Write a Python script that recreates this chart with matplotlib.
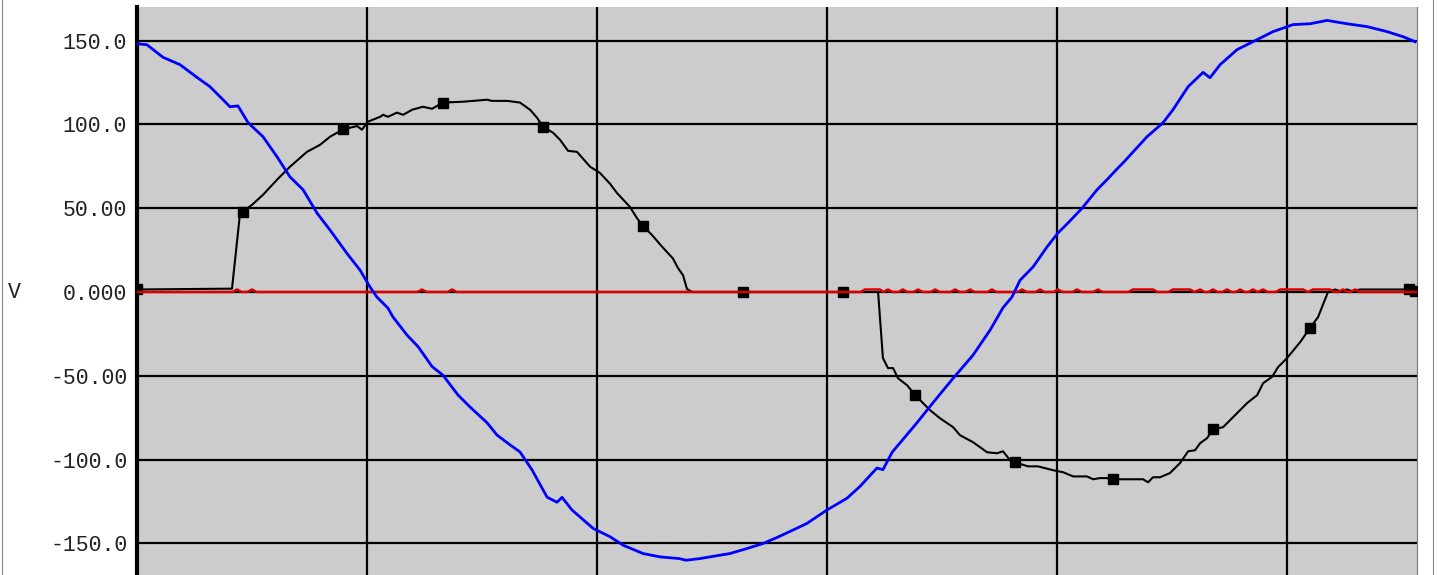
import numpy as np
import matplotlib.pyplot as plt
from matplotlib.lines import Line2D

# time axis in grid divisions (one vertical grid line per division)
blue_t = [0.004, 0.043, 0.113, 0.187, 0.261, 0.317, 0.374, 0.404, 0.439, 0.483,
          0.548, 0.609, 0.665, 0.722, 0.783, 0.839, 0.913, 0.970, 1.013, 1.043,
          1.091, 1.113, 1.174, 1.222, 1.283, 1.330, 1.396, 1.448, 1.522, 1.565,
          1.622, 1.665, 1.717, 1.783, 1.826, 1.848, 1.891, 1.983, 2.057, 2.113,
          2.200, 2.274, 2.357, 2.387, 2.448, 2.504, 2.578, 2.652, 2.722, 2.783,
          2.852, 2.913, 3.000, 3.087, 3.143, 3.217, 3.243, 3.283, 3.391, 3.461,
          3.548, 3.635, 3.709, 3.765, 3.804, 3.839, 3.896, 3.957, 4.004, 4.052,
          4.109, 4.174, 4.217, 4.265, 4.287, 4.391, 4.461, 4.504, 4.570, 4.635,
          4.665, 4.709, 4.783, 4.852, 4.939, 5.026, 5.100, 5.174, 5.261, 5.348,
          5.435, 5.504, 5.557]
blue_v = [148, 147.5, 140, 135.6, 128, 122.5, 114.7, 110.5, 111, 101,
          92.6, 80.6, 68.7, 61, 47, 37, 23, 13, 3, -3,
          -9.6, -14.9, -25.7, -32.6, -44.5, -49.6, -61.5, -68.6, -78, -85.3,
          -91.2, -95.4, -106, -122.4, -125.4, -122.5, -130, -141, -146, -151,
          -156, -158, -159, -160, -159, -157.7, -156, -153, -150, -146.4,
          -142, -138, -130, -123, -116, -105, -106, -95.6, -78, -66,
          -51.5, -37.6, -22.7, -9.4, -3, 7, 15, 27, 35.2, 41.8,
          50, 61, 67, 74, 77, 92.6, 101, 108.7, 122.5, 131,
          127.8, 135.6, 144.6, 149.3, 155.3, 159.5, 160, 162, 160, 158.3,
          155.3, 152.3, 149.3]

black_t = [0.0, 0.413, 0.448, 0.461, 0.5, 0.548, 0.609, 0.665, 0.739, 0.796,
           0.839, 0.896, 0.957, 0.978, 1.004, 1.057, 1.070, 1.091, 1.130, 1.157,
           1.196, 1.243, 1.283, 1.330, 1.417, 1.522, 1.543, 1.609, 1.665, 1.709,
           1.739, 1.765, 1.809, 1.839, 1.874, 1.913, 1.970, 2.013, 2.057, 2.087,
           2.143, 2.174, 2.200, 2.239, 2.283, 2.330, 2.352, 2.374, 2.391, 2.413,
           2.635, 3.070, 3.222, 3.243, 3.265, 3.287, 3.309, 3.348, 3.383, 3.448,
           3.491, 3.548, 3.578, 3.635, 3.696, 3.739, 3.765, 3.796, 3.817, 3.874,
           3.917, 3.983, 4.026, 4.070, 4.130, 4.157, 4.187, 4.217, 4.243, 4.374,
           4.396, 4.417, 4.448, 4.491, 4.535, 4.570, 4.600, 4.622, 4.652, 4.678,
           4.722, 4.765, 4.826, 4.870, 4.896, 4.935, 4.961, 5.000, 5.057, 5.100,
           5.135, 5.178, 5.209, 5.230, 5.261, 5.283, 5.317, 5.530, 5.557]
black_v = [1.5, 2, 47, 48, 52, 58, 67, 74.7, 83.6, 87.8,
           92.6, 97, 99, 96.8, 101.6, 104.5, 105.7, 104.5, 107, 105.7,
           108.7, 110.5, 109.3, 113, 113.5, 114.7, 114, 114, 113, 108.7,
           104, 98.6, 95, 90.8, 84.2, 83.6, 74.7, 71, 64.5, 59,
           50.8, 44, 39.4, 34, 27, 20, 14.3, 10, 1.8, 0,
           0, 0, 0, -39.4, -45.4, -45.4, -51.5, -55.6, -61.5, -70.5,
           -75.3, -80.6, -85.4, -89.6, -95.6, -96.2, -95, -100.4, -101.6, -104,
           -104, -106.3, -107.5, -110, -110, -111.7, -111, -111, -111.7, -111.7,
           -113.5, -110.5, -110.5, -108, -102, -95, -94.4, -90.2, -87.2, -82,
           -80.6, -74.7, -66.3, -61.5, -54.4, -50.6, -44.8, -39.4, -29.9, -21.5,
           -14.9, 0, 1.5, 0.5, 1.5, 0.5, 1.5, 1.5, 0.5]
black_marker_t = [0.0, 0.461, 0.896, 1.330, 1.765, 2.200, 2.635, 3.070, 3.383,
                  3.817, 4.243, 4.678, 5.100, 5.530, 5.557]

red_t = [0.0, 0.415, 0.435, 0.455, 0.48, 0.5, 0.52, 1.219, 1.239, 1.259,
         1.350, 1.370, 1.390, 3.145, 3.165, 3.230, 3.245, 3.265, 3.285, 3.310,
         3.330, 3.350, 3.376, 3.396, 3.416, 3.450, 3.470, 3.490, 3.537, 3.557,
         3.577, 3.602, 3.622, 3.642, 3.697, 3.717, 3.737, 3.828, 3.848, 3.868,
         3.906, 3.926, 3.946, 3.984, 4.004, 4.024, 4.067, 4.087, 4.107, 4.158,
         4.178, 4.198, 4.310, 4.330, 4.417, 4.437, 4.484, 4.504, 4.578, 4.598,
         4.622, 4.642, 4.658, 4.678, 4.698, 4.719, 4.739, 4.759, 4.776, 4.796,
         4.816, 4.832, 4.852, 4.872, 4.896, 4.916, 4.950, 4.970, 5.070, 5.090,
         5.113, 5.187, 5.207, 5.223, 5.243, 5.263, 5.276, 5.296, 5.316, 5.565]
red_v = [0, 0, 1.5, 0, 0, 1.5, 0, 0, 1.5, 0,
         0, 1.5, 0, 0, 1.5, 1.5, 0, 1.5, 0, 0,
         1.5, 0, 0, 1.5, 0, 0, 1.5, 0, 0, 1.5,
         0, 0, 1.5, 0, 0, 1.5, 0, 0, 1.5, 0,
         0, 1.5, 0, 0, 1.5, 0, 0, 1.5, 0, 0,
         1.5, 0, 0, 1.5, 1.5, 0, 0, 1.5, 1.5, 0,
         1.5, 0, 0, 1.5, 0, 0, 1.5, 0, 0, 1.5,
         0, 0, 1.5, 0, 1.5, 0, 0, 1.5, 1.5, 0,
         1.5, 1.5, 0, 0, 1.5, 0, 0, 1.5, 0, 0]

y_ticks = [150, 100, 50, 0, -50, -100, -150]
y_tick_labels = ["150.0", "100.0", "50.00", "0.000", "-50.00", "-100.0", "-150.0"]
x_grid = [0, 1, 2, 3, 4, 5]


def main():
	plt.rcParams.update({'font.family': 'Liberation Mono', 'font.size': 15.5})

	fig = plt.figure(figsize=(14.37, 5.75), dpi=100)
	ax = fig.add_axes([137 / 1437, -2 / 575, 1280 / 1437, 570 / 575])
	ax.set_facecolor('#cccccc')

	# grid
	for t in x_grid:
		ax.axvline(t, color='black', lw=1.6, zorder=1)
	for v in y_ticks:
		ax.axhline(v, color='black', lw=1.6, zorder=1)

	# curves
	marks = [black_t.index(t) for t in black_marker_t]
	ax.plot(black_t, black_v, color='black', lw=1.5, marker='s', ms=7,
			markevery=marks, zorder=3)
	ax.plot(red_t, red_v, color='#dd0000', lw=1.8, zorder=4)
	ax.plot(blue_t, blue_v, color='#0000ff', lw=2.0, zorder=5)

	ax.set_xlim(0, 5.565)
	ax.set_ylim(-170, 170)
	ax.set_xticks(x_grid)
	ax.set_xticklabels([])
	ax.set_yticks(y_ticks)
	ax.set_yticklabels(y_tick_labels, color='#222222')
	ax.tick_params(axis='both', length=0)
	ax.tick_params(axis='y', pad=7)

	for side in ['top', 'bottom']:
		ax.spines[side].set_visible(False)
	ax.spines['left'].set_linewidth(3)
	ax.spines['left'].set_color('black')
	ax.spines['right'].set_linewidth(0.8)
	ax.spines['right'].set_color('#777777')

	fig.text(8 / 1437, 1 - 292 / 575, "V", color='#222222', va='center', ha='left')

	# thin frame lines at the picture edges
	fig.add_artist(Line2D([2 / 1437, 2 / 1437], [0, 1], color='#888888', lw=0.8))
	fig.add_artist(Line2D([1433 / 1437, 1433 / 1437], [0, 1], color='#888888', lw=0.8))

	fig.savefig('out.png', dpi=100)


if __name__ == '__main__':
	main()
